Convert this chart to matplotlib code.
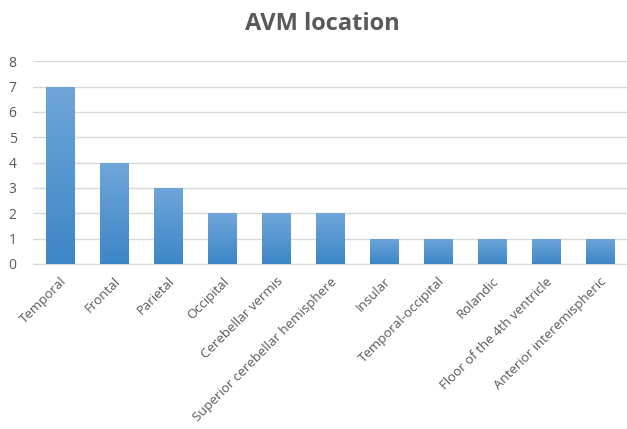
import matplotlib as mpl
mpl.use('Agg')
import matplotlib.pyplot as plt
import numpy as np
from matplotlib.colors import LinearSegmentedColormap

plt.rcParams['font.family'] = ['Open Sans', 'DejaVu Sans']

categories = ['Temporal', 'Frontal', 'Parietal', 'Occipital', 'Cerebellar vermis',
              'Superior cerebellar hemisphere', 'Insular', 'Temporal-occipital',
              'Rolandic', 'Floor of the 4th ventricle', 'Anterior interemispheric']
counts = [7, 4, 3, 2, 2, 2, 1, 1, 1, 1, 1]

grey = '#595959'
fig = plt.figure(figsize=(6.27, 4.29), dpi=100)
ax = fig.add_axes([0.053, 0.385, 0.947, 0.472])

bars = ax.bar(range(len(categories)), counts, width=0.52, color='none', edgecolor='none', zorder=3)

# vertical gradient fill, lighter at the top
cmap = LinearSegmentedColormap.from_list('blu', ['#3d86c6', '#6fa6da'])
grad = np.linspace(0, 1, 256).reshape(-1, 1)
for b in bars:
    x0, y0 = b.get_x(), b.get_y()
    w, h = b.get_width(), b.get_height()
    im = ax.imshow(grad, cmap=cmap, origin='lower', aspect='auto',
                   extent=[x0, x0 + w, y0, y0 + h], zorder=3)
    im.set_clip_path(b)

ax.set_xlim(-0.5, len(categories) - 0.5)
ax.set_ylim(0, 8)
ax.set_yticks(range(9))
ax.grid(axis='y', color='#d9d9d9', linewidth=1, zorder=0)
ax.set_axisbelow(True)
for s in ['top', 'right', 'left']:
    ax.spines[s].set_visible(False)
ax.spines['bottom'].set_color('#d9d9d9')

ax.set_xticks(range(len(categories)))
ax.set_xticklabels(categories, rotation=45, ha='right', rotation_mode='anchor')
ax.tick_params(axis='both', length=0, colors=grey)
ax.tick_params(axis='x', labelsize=9.5, pad=8)
ax.tick_params(axis='y', labelsize=10, pad=12)

fig.text(0.514, 0.945, 'AVM location', ha='center', va='center',
         fontsize=17, fontweight='bold', color=grey)

fig.savefig('out.png', dpi=100)
